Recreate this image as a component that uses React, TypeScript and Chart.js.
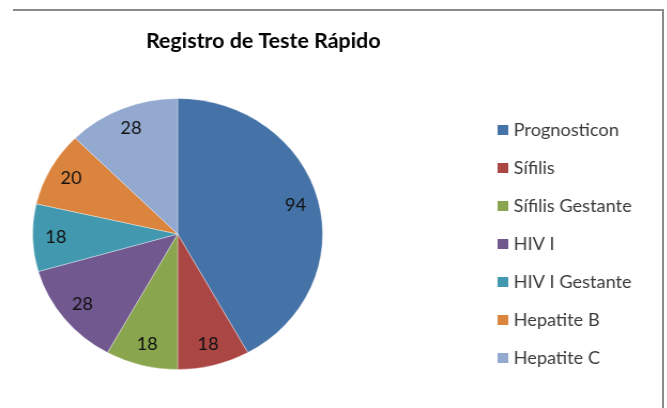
import React, { useEffect, useRef } from "react";
import { Chart, registerables } from "chart.js";
Chart.register(...registerables);

const categories = ["Prognosticon", "Sífilis", "Sífilis Gestante", "HIV I", "HIV I Gestante", "Hepatite B", "Hepatite C"];
const values = [94, 18, 18, 28, 18, 20, 28];
const colors = ["#4572A7", "#AA4643", "#89A54E", "#71588F", "#4198AF", "#DB843D", "#93A9CF"];
const titleText = "Registro de Teste Rápido";

const STRETCH = 1.07;
const W = 623;
const H = 408;

export default function App() {
  const ref = useRef<HTMLCanvasElement>(null);
  useEffect(() => {
    const canvas = ref.current!;
    const overlay = {
      id: "overlay",
      afterDatasetsDraw(chart: any) {
        const ctx = chart.ctx;
        const meta = chart.getDatasetMeta(0);
        ctx.save();
        ctx.textAlign = "center";
        ctx.textBaseline = "middle";
        ctx.fillStyle = "#111";
        ctx.font = "17px Lato";
        meta.data.forEach((arc: any, i: number) => {
          const p = arc.getProps(["x", "y", "startAngle", "endAngle", "outerRadius"], true);
          const mid = (p.startAngle + p.endAngle) / 2;
          const r = p.outerRadius * 0.84;
          ctx.fillText(String(values[i]), p.x + Math.cos(mid) * r, p.y + Math.sin(mid) * r);
        });
        ctx.fillStyle = "#000";
        ctx.font = "bold 20px Lato";
        ctx.fillText(titleText, 246, 42);
        ctx.textAlign = "left";
        ctx.font = "17px Lato";
        categories.forEach((c, i) => {
          const y = 130 + i * 38;
          ctx.fillStyle = colors[i];
          ctx.fillRect(465, y - 5, 10, 10);
          ctx.fillStyle = "#3a3a3a";
          ctx.fillText(c, 480, y + 1);
        });
        ctx.restore();
      },
    };
    const chart = new Chart(canvas, {
      type: "pie",
      data: {
        labels: categories,
        datasets: [
          {
            data: values,
            backgroundColor: colors,
            borderColor: "rgba(255,255,255,0.35)",
            borderWidth: 1,
          },
        ],
      },
      options: {
        responsive: false,
        maintainAspectRatio: false,
        animation: false,
        layout: { padding: { left: 30, right: 321, top: 98, bottom: 38 } },
        plugins: {
          legend: { display: false },
          title: { display: false },
          tooltip: { enabled: false },
        },
      },
      plugins: [overlay],
    });
    return () => chart.destroy();
  }, []);

  return (
    <div style={{ position: "fixed", left: 0, top: 0, width: 667, height: 408, background: "#fff", overflow: "hidden" }}>
      <div style={{ width: W, height: H, transform: `scaleX(${STRETCH})`, transformOrigin: "0 0" }}>
        <canvas ref={ref} width={W} height={H} style={{ display: "block" }} />
      </div>
      <div
        style={{
          position: "absolute",
          left: 13,
          top: 9,
          width: 651,
          height: 410,
          boxSizing: "border-box",
          borderTop: "2px solid #8a8a8a",
          borderRight: "2px solid #8a8a8a",
        }}
      />
    </div>
  );
}
